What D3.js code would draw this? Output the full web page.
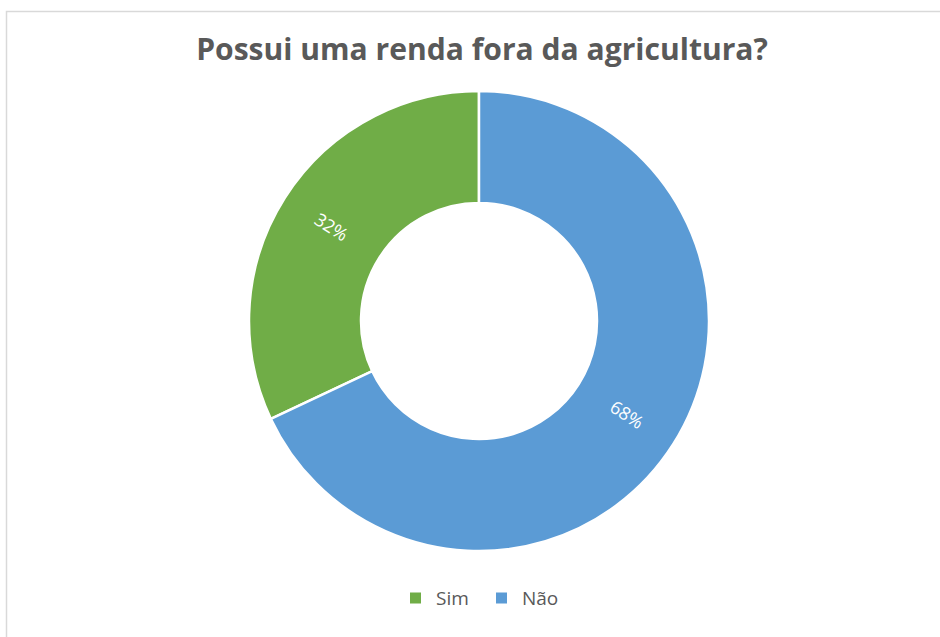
<!DOCTYPE html>
<html>
<head>
<meta charset="utf-8">
<script src="https://cdn.jsdelivr.net/npm/d3@7"></script>
<style>
  html, body { margin: 0; padding: 0; background: #fff; }
  svg { display: block; }
</style>
</head>
<body>
<svg id="chart" width="940" height="637"></svg>
<script>
// Chart data
const title = "Possui uma renda fora da agricultura?";
const categories = ["Sim", "Não"];
const values = [32, 68];
const colors = ["#70AD47", "#5B9BD5"];

const svg = d3.select("#chart");
const W = 940, H = 637;
const cx = 479, cy = 321;
const outerR = 230, innerR = 118, labelR = 175;

// Chart area frame
svg.append("rect")
  .attr("x", 6.5).attr("y", 11.5)
  .attr("width", W + 20).attr("height", H + 20)
  .attr("fill", "#fff")
  .attr("stroke", "#d9d9d9")
  .attr("stroke-width", 1.5);

// Title, fitted to its width
const t = svg.append("text")
  .attr("x", 482).attr("y", 60)
  .attr("text-anchor", "middle")
  .attr("font-family", "'Open Sans', 'Noto Sans', sans-serif")
  .attr("font-weight", "bold")
  .attr("font-size", 24)
  .attr("fill", "#595959")
  .text(title);
const tw = t.node().getComputedTextLength();
t.attr("font-size", 24 * 572 / tw);

// Donut: the "Não" slice begins at 12 o'clock, so "Sim" is rotated to follow it
const total = d3.sum(values);
const start = 2 * Math.PI * values[1] / total;
const pie = d3.pie().sort(null).value(d => d)
  .startAngle(start).endAngle(start + 2 * Math.PI);
const arcs = pie(values);
const arc = d3.arc().innerRadius(innerR).outerRadius(outerR);
const labelArc = d3.arc().innerRadius(labelR).outerRadius(labelR);

const g = svg.append("g").attr("transform", `translate(${cx},${cy})`);

g.selectAll("path.slice")
  .data(arcs)
  .join("path")
  .attr("class", "slice")
  .attr("d", arc)
  .attr("fill", (d, i) => colors[i])
  .attr("stroke", "#fff")
  .attr("stroke-width", 2.5)
  .attr("stroke-linejoin", "miter");

// Percentage labels, aligned with the radius through each slice
g.selectAll("text.lbl")
  .data(arcs)
  .join("text")
  .attr("class", "lbl")
  .attr("transform", d => {
    const [x, y] = labelArc.centroid(d);
    const mid = (d.startAngle + d.endAngle) / 2;
    let rot = mid * 180 / Math.PI - 90;
    rot = ((rot % 360) + 360) % 360;
    if (rot > 90 && rot < 270) rot -= 180;
    return `translate(${x},${y}) rotate(${rot})`;
  })
  .attr("text-anchor", "middle")
  .attr("dy", "0.35em")
  .attr("font-family", "'Open Sans', 'Noto Sans', sans-serif")
  .attr("font-size", 18)
  .attr("fill", "#fff")
  .text(d => Math.round(d.data / total * 100) + "%");

// Legend
const legend = svg.append("g").attr("transform", "translate(410,598)");
const legendX = [0, 86];
const items = legend.selectAll("g.item")
  .data(categories)
  .join("g")
  .attr("class", "item")
  .attr("transform", (d, i) => `translate(${legendX[i]},0)`);
items.append("rect")
  .attr("x", 0).attr("y", -5.5)
  .attr("width", 11).attr("height", 11)
  .attr("fill", (d, i) => colors[i]);
items.append("text")
  .attr("x", 26).attr("y", 0)
  .attr("dy", "0.35em")
  .attr("font-family", "'Open Sans', 'Noto Sans', sans-serif")
  .attr("font-size", 19)
  .attr("fill", "#595959")
  .text(d => d);
</script>
</body>
</html>
